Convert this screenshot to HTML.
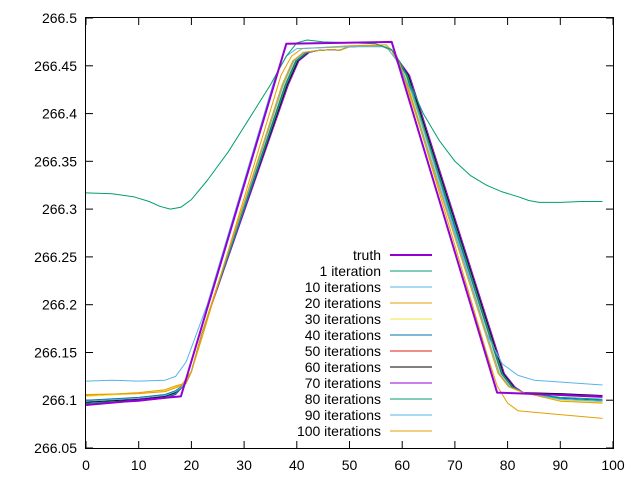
<!DOCTYPE html>
<html><head><meta charset="utf-8"><style>
body{margin:0;background:#fff;width:640px;height:480px;overflow:hidden}
text{font-family:"Liberation Sans",sans-serif;font-size:14px;fill:#000}
</style></head><body>
<svg id="s" width="640" height="480" xmlns="http://www.w3.org/2000/svg">
<g stroke="#000" stroke-width="1" fill="none">
<rect x="85.5" y="17.5" width="528" height="431"/>
</g>
<g id="ticks" stroke="#000" stroke-width="1"></g>
<g id="labels"></g>
<g id="series" fill="none"></g>
<g id="legend"></g>
</svg>
<script>
var X=function(x){return 86+x*5.27},Y=function(v){return 18+(266.5-v)*955.6};
var ns="http://www.w3.org/2000/svg";
function el(p,t,a,txt){var e=document.createElementNS(ns,t);for(var k in a)e.setAttribute(k,a[k]);if(txt!=null)e.textContent=txt;document.getElementById(p).appendChild(e);return e;}
for(var i=0;i<=10;i++){var x=X(i*10).toFixed(1);
el('ticks','line',{x1:x,y1:448,x2:x,y2:441});el('ticks','line',{x1:x,y1:18,x2:x,y2:25});
el('labels','text',{x:x,y:470,'text-anchor':'middle'},String(i*10));}
var yl=['266.05','266.1','266.15','266.2','266.25','266.3','266.35','266.4','266.45','266.5'];
for(var i=0;i<yl.length;i++){var v=parseFloat(yl[i]),y=Y(v).toFixed(1);
el('ticks','line',{x1:86,y1:y,x2:93,y2:y});el('ticks','line',{x1:613,y1:y,x2:606,y2:y});
el('labels','text',{x:77,y:(Y(v)+5).toFixed(1),'text-anchor':'end'},yl[i]);}
function path(pts,col,w){var d=pts.map(function(p,i){return (i?'L':'M')+X(p[0]).toFixed(1)+' '+Y(p[1]).toFixed(1)}).join(' ');
el('series','path',{d:d,stroke:col,'stroke-width':w||1,'stroke-linejoin':'round'});}
function cl(L0,E,d,top){top=top||0;return [[0,L0],[10,L0+0.003],[15,L0+0.006],[17,L0+0.01],[19,266.118],[20,266.13],[22,266.17],[37+d,266.43],[39+d,266.455],[41+d,266.464+top],[44,266.466+top],[47,266.467+top],[48,266.466+top],[50,266.47+top],[56,266.471+top],[58,266.466+top],[60+d,266.44],[78+d,266.128],[80+d,266.114],[83,266.108],[90,E+0.002],[98,E]];}
var cols=['#9400d3','#009e73','#56b4e9','#e69f00','#f0e442','#0072b2','#e51e10','#000000','#9400d3','#009e73','#56b4e9','#e69f00'];
var params=[[266.104,266.098,0.6],[266.1,266.1,0.8],[266.099,266.104,1.0],[266.098,266.105,1.2],[266.096,266.103,1.4],[266.097,266.101,1.0],[266.099,266.099,0.4],[266.105,266.097,0.2]];
for(var i=0;i<8;i++){var p=params[i];path(cl(p[0],p[1],p[2]),cols[i+4]);}
path([[0,266.106],[10,266.107],[15,266.109],[18,266.115],[20,266.13],[22,266.165],[37,266.44],[39,266.46],[41,266.468],[50,266.471],[57,266.472],[59,266.46],[61,266.43],[76,266.15],[78,266.115],[80,266.097],[82,266.089],[86,266.087],[98,266.081]],cols[3]);
path([[0,266.12],[5,266.121],[10,266.12],[15,266.121],[17,266.125],[19,266.14],[21,266.17],[23,266.2],[36,266.44],[38,266.46],[40,266.468],[50,266.47],[57,266.47],[59,266.455],[62,266.42],[76,266.17],[79,266.138],[82,266.126],[85,266.121],[98,266.116]],cols[2]);
path([[0,266.317],[5,266.316],[9,266.313],[12,266.308],[14,266.303],[16,266.3],[18,266.302],[20,266.31],[23,266.33],[27,266.36],[31,266.395],[35,266.43],[38,266.46],[40,266.474],[42,266.477],[45,266.475],[50,266.474],[55,266.473],[58,266.467],[60,266.45],[62,266.425],[64,266.4],[67,266.372],[70,266.35],[73,266.335],[76,266.325],[79,266.318],[82,266.313],[84,266.309],[86,266.307],[90,266.307],[94,266.308],[98,266.308]],cols[1]);
path([[0,266.095],[18,266.104],[38,266.473],[58,266.475],[78,266.108],[98,266.104]],cols[0],2);
var names=['truth','1 iteration','10 iterations','20 iterations','30 iterations','40 iterations','50 iterations','60 iterations','70 iterations','80 iterations','90 iterations','100 iterations'];
for(var i=0;i<12;i++){var y=255+i*16;
el('legend','text',{x:381,y:y+5,'text-anchor':'end'},names[i]);
el('legend','line',{x1:390,y1:y,x2:432,y2:y,stroke:cols[i],'stroke-width':i==0?2:1});}
</script>
</body></html>
